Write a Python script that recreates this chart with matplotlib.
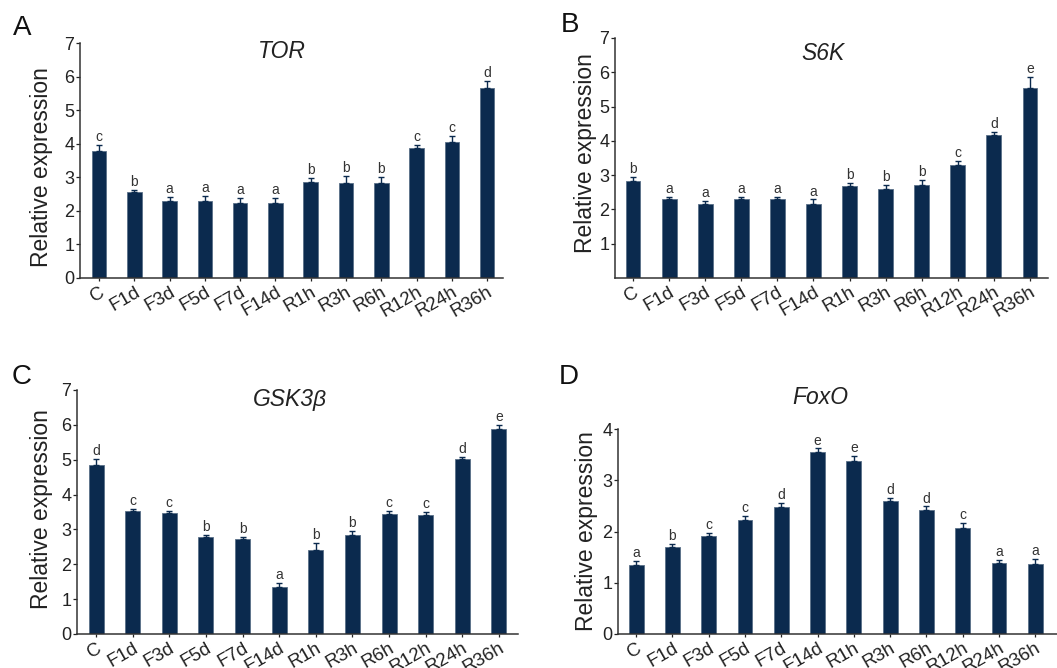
import matplotlib
matplotlib.use("Agg")
import matplotlib.pyplot as plt
import matplotlib.transforms as mtransforms
import numpy as np

plt.rcParams['font.family'] = ['Liberation Sans', 'DejaVu Sans']

categories = ["C", "F1d", "F3d", "F5d", "F7d", "F14d", "R1h", "R3h", "R6h", "R12h", "R24h", "R36h"]

tor_vals = [3.77, 2.55, 2.30, 2.28, 2.24, 2.24, 2.85, 2.83, 2.82, 3.88, 4.06, 5.66]
tor_err = [0.18, 0.08, 0.11, 0.16, 0.14, 0.14, 0.13, 0.20, 0.19, 0.07, 0.18, 0.22]
tor_sig = ["c", "b", "a", "a", "a", "a", "b", "b", "b", "c", "c", "d"]

s6k_vals = [2.83, 2.29, 2.17, 2.31, 2.31, 2.17, 2.67, 2.59, 2.70, 3.29, 4.17, 5.55]
s6k_err = [0.12, 0.08, 0.07, 0.06, 0.05, 0.12, 0.10, 0.11, 0.16, 0.12, 0.10, 0.31]
s6k_sig = ["b", "a", "a", "a", "a", "a", "b", "b", "b", "c", "d", "e"]

gsk_vals = [4.85, 3.52, 3.46, 2.77, 2.72, 1.36, 2.41, 2.85, 3.43, 3.40, 5.01, 5.87]
gsk_err = [0.16, 0.08, 0.07, 0.08, 0.06, 0.11, 0.21, 0.11, 0.10, 0.11, 0.06, 0.13]
gsk_sig = ["d", "c", "c", "b", "b", "a", "b", "b", "c", "c", "d", "e"]

foxo_vals = [1.34, 1.69, 1.91, 2.22, 2.48, 3.56, 3.37, 2.59, 2.42, 2.07, 1.39, 1.37]
foxo_err = [0.09, 0.06, 0.07, 0.08, 0.07, 0.06, 0.10, 0.06, 0.07, 0.09, 0.06, 0.10]
foxo_sig = ["a", "b", "c", "c", "d", "e", "e", "d", "d", "c", "a", "a"]

W, H = 1057, 668
fig = plt.figure(figsize=(W / 100, H / 100), dpi=100)

BAR = "#0b2a4e"
EDGE = "#5a6f88"

def px_rect(l, r, b, t):
    return [l / W, 1 - b / H, (r - l) / W, (b - t) / H]

panels = [
    dict(rect=px_rect(80, 503, 278, 43), vals=tor_vals, err=tor_err, sig=tor_sig,
         title="TOR", tpos=(282, 52), letter="A", lpos=(22, 28), ymax=7,
         yticks=list(range(0, 8)), lab=(-0.064, 0.47), xl=(-0.54, 11.45)),
    dict(rect=px_rect(615, 1048, 278, 38), vals=s6k_vals, err=s6k_err, sig=s6k_sig,
         title="S6K", tpos=(823, 53), letter="B", lpos=(570, 25), ymax=7,
         yticks=list(range(1, 8)), lab=(-0.042, 0.52), xl=(-0.5, 11.5)),
    dict(rect=px_rect(77, 518, 634, 390), vals=gsk_vals, err=gsk_err, sig=gsk_sig,
         title="GSK3β", tpos=(290, 400), letter="C", lpos=(22, 377), ymax=7,
         yticks=list(range(0, 8)), lab=(-0.054, 0.51), xl=(-0.52, 11.52)),
    dict(rect=px_rect(618, 1057, 634, 429), vals=foxo_vals, err=foxo_err, sig=foxo_sig,
         title="FoxO", tpos=(820, 398), letter="D", lpos=(569, 377), ymax=4,
         yticks=list(range(0, 5)), lab=(-0.046, 0.5), xl=(-0.5, 11.6)),
]

x = np.arange(len(categories))
for p in panels:
    ax = fig.add_axes(p["rect"])
    vals = np.array(p["vals"])
    err = np.array(p["err"])
    ax.bar(x, vals, width=0.41, color=BAR, edgecolor=EDGE, linewidth=0.6, zorder=2)
    ax.errorbar(x, vals, yerr=[np.zeros_like(err), err], fmt="none", ecolor=BAR,
                elinewidth=1.0, capsize=2.5, capthick=1.0, zorder=3)
    for xi, v, e, s in zip(x, vals, err, p["sig"]):
        ax.text(xi, v + e + p["ymax"] * 0.004, s, ha="center", va="bottom",
                fontsize=10, color="#333333")
    ax.set_ylim(0, p["ymax"])
    ax.set_xlim(*p["xl"])
    ax.set_yticks(p["yticks"])
    ax.set_yticklabels([str(t) for t in p["yticks"]], fontsize=13, color="#222222")
    ax.set_xticks(x)
    ax.set_xticklabels(categories, fontsize=13.5, rotation=30, ha="right", va="top",
                       rotation_mode="anchor", color="#222222")
    offset = mtransforms.ScaledTranslation(10 / 100, -2 / 100, fig.dpi_scale_trans)
    for lbl in ax.get_xticklabels():
        lbl.set_transform(lbl.get_transform() + offset)
    ax.tick_params(axis="y", length=3, width=0.9, pad=1, colors="#222222")
    ax.tick_params(axis="x", length=2, width=0.9, pad=2, colors="#222222")
    for side in ("top", "right"):
        ax.spines[side].set_visible(False)
    for side in ("left", "bottom"):
        ax.spines[side].set_linewidth(1.1)
        ax.spines[side].set_color("#333333")
    ax.set_ylabel("Relative expression", fontsize=16.5, color="#222222")
    ax.yaxis.set_label_coords(*p["lab"])
    fig.text(p["tpos"][0] / W, 1 - p["tpos"][1] / H, p["title"], ha="center", va="center",
             fontsize=16.5, style="italic", color="#222222")
    fig.text(p["lpos"][0] / W, 1 - p["lpos"][1] / H, p["letter"], ha="center", va="center",
             fontsize=20, color="#111111")

fig.savefig("out.png", dpi=100)
